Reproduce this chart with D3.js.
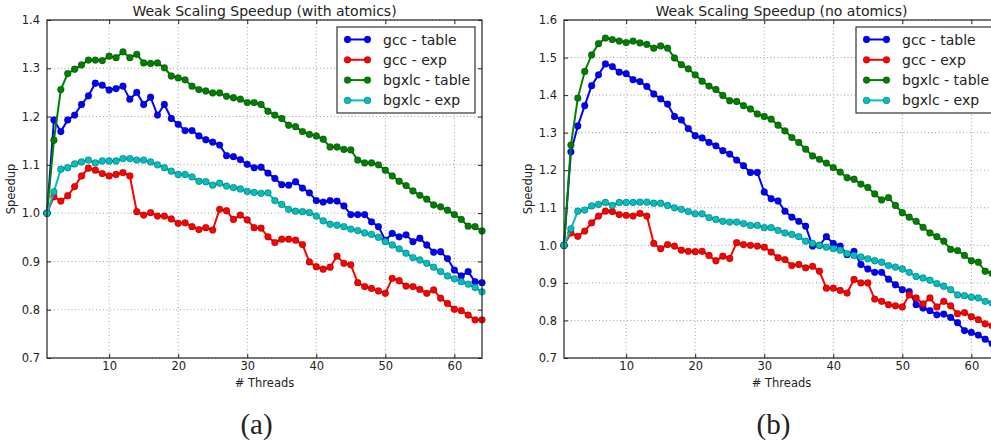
<!DOCTYPE html>
<html>
<head>
<meta charset="utf-8">
<script src="https://cdn.jsdelivr.net/npm/d3@7"></script>
<style>
  body { margin: 0; background: #fff; }
  svg { display: block; overflow: hidden; }
  text { font-family: "DejaVu Sans", sans-serif; fill: #222; }
</style>
</head>
<body>
<div id="chart"></div>
<script>
// threads 1..64
var threads = d3.range(1, 65);

// (a) with atomics
var atomGccTable = [1.0,1.193,1.169,1.193,1.203,1.225,1.243,1.269,1.265,1.255,1.258,1.263,1.236,1.250,1.225,1.240,1.203,1.225,1.196,1.184,
  1.171,1.171,1.160,1.152,1.147,1.141,1.119,1.117,1.111,1.101,1.094,1.095,1.083,1.072,1.059,1.058,1.065,1.052,1.042,1.026,
  1.023,1.026,1.025,1.015,0.997,0.997,0.997,0.982,0.972,0.944,0.958,0.951,0.955,0.941,0.948,0.934,0.919,0.920,0.906,0.882,
  0.870,0.879,0.858,0.856];
var atomGccExp = [1.0,1.034,1.025,1.036,1.055,1.077,1.093,1.089,1.082,1.077,1.080,1.084,1.077,1.003,0.996,1.001,0.994,0.994,0.988,0.979,
  0.980,0.972,0.966,0.970,0.965,1.008,1.005,0.987,0.996,0.986,0.970,0.969,0.951,0.939,0.946,0.946,0.944,0.935,0.899,0.889,
  0.884,0.888,0.911,0.896,0.893,0.856,0.848,0.844,0.839,0.834,0.865,0.860,0.849,0.848,0.842,0.834,0.841,0.824,0.813,0.801,
  0.798,0.789,0.779,0.779];
var atomXlcTable = [1.0,1.151,1.256,1.289,1.298,1.307,1.317,1.317,1.316,1.325,1.322,1.334,1.322,1.329,1.311,1.310,1.311,1.301,1.284,1.280,
  1.276,1.263,1.256,1.253,1.249,1.249,1.242,1.239,1.236,1.229,1.229,1.225,1.211,1.203,1.196,1.182,1.179,1.169,1.163,1.160,
  1.153,1.137,1.137,1.132,1.131,1.110,1.104,1.104,1.100,1.089,1.077,1.066,1.057,1.046,1.037,1.029,1.017,1.013,1.006,0.997,
  0.987,0.973,0.972,0.963];
var atomXlcExp = [1.0,1.044,1.091,1.094,1.102,1.106,1.110,1.104,1.108,1.108,1.108,1.113,1.113,1.110,1.110,1.106,1.100,1.094,1.087,1.080,
  1.080,1.075,1.066,1.065,1.058,1.062,1.056,1.053,1.050,1.045,1.043,1.041,1.042,1.026,1.018,1.008,1.004,1.003,1.001,0.994,
  0.984,0.977,0.975,0.972,0.967,0.964,0.959,0.956,0.950,0.941,0.934,0.926,0.917,0.908,0.903,0.896,0.888,0.879,0.870,0.864,
  0.858,0.853,0.846,0.837];

// (b) no atomics
var noatomGccTable = [1.0,1.249,1.318,1.372,1.425,1.454,1.483,1.476,1.461,1.457,1.441,1.436,1.423,1.403,1.390,1.376,1.343,1.334,1.311,1.292,
  1.286,1.274,1.265,1.252,1.243,1.227,1.212,1.194,1.194,1.142,1.124,1.118,1.091,1.075,1.064,1.051,0.998,1.000,1.023,1.005,
  0.998,0.975,0.984,0.949,0.937,0.928,0.928,0.910,0.895,0.882,0.877,0.842,0.833,0.826,0.815,0.817,0.808,0.794,0.773,0.768,
  0.761,0.750,0.738,0.730];
var noatomGccExp = [1.0,1.033,1.024,1.038,1.060,1.078,1.091,1.090,1.082,1.080,1.078,1.085,1.078,1.005,0.991,1.002,0.998,0.987,0.984,0.983,
  0.984,0.973,0.959,0.971,0.965,1.007,1.002,1.000,0.998,0.995,0.982,0.967,0.962,0.946,0.949,0.940,0.944,0.931,0.886,0.886,
  0.880,0.873,0.909,0.900,0.900,0.857,0.851,0.842,0.839,0.836,0.868,0.860,0.844,0.860,0.836,0.851,0.839,0.818,0.821,0.810,
  0.802,0.791,0.786,0.780];
var noatomXlcTable = [1.0,1.267,1.392,1.463,1.507,1.537,1.552,1.548,1.544,1.540,1.544,1.539,1.535,1.525,1.531,1.525,1.499,1.481,1.470,1.454,
  1.437,1.424,1.415,1.399,1.385,1.383,1.372,1.363,1.350,1.343,1.336,1.320,1.305,1.287,1.274,1.256,1.238,1.229,1.219,1.207,
  1.195,1.180,1.176,1.163,1.154,1.137,1.121,1.127,1.106,1.087,1.075,1.064,1.048,1.033,1.023,1.011,0.989,0.986,0.973,0.959,
  0.955,0.931,0.925,0.915];
var noatomXlcExp = [1.0,1.044,1.091,1.094,1.105,1.109,1.114,1.106,1.114,1.114,1.114,1.115,1.115,1.112,1.112,1.106,1.100,1.096,1.090,1.084,
  1.084,1.074,1.069,1.064,1.062,1.062,1.058,1.053,1.053,1.047,1.047,1.040,1.033,1.029,1.023,1.011,1.005,1.000,0.995,0.991,
  0.987,0.978,0.973,0.969,0.964,0.959,0.955,0.946,0.942,0.937,0.928,0.917,0.913,0.907,0.898,0.891,0.882,0.868,0.866,0.862,
  0.860,0.851,0.846,0.840];

var seriesNames = ["gcc - table", "gcc - exp", "bgxlc - table", "bgxlc - exp"];
var seriesColors = ["#0000ff", "#ff0000", "#008000", "#00bfbf"];
var xTicks = [10, 20, 30, 40, 50, 60];
var yTicksA = [0.7, 0.8, 0.9, 1.0, 1.1, 1.2, 1.3, 1.4];
var yTicksB = [0.7, 0.8, 0.9, 1.0, 1.1, 1.2, 1.3, 1.4, 1.5, 1.6];

var W = 991, H = 443;
var svg = d3.select("#chart").append("svg")
    .attr("width", W)
    .attr("height", H);

function drawPanel(opts) {
  var x = d3.scaleLinear().domain([1, 64]).range([opts.left, opts.left + 435]);
  var y = d3.scaleLinear().domain(opts.yDomain).range([358, 20]);
  var g = svg.append("g");

  // grid
  g.selectAll(".gx").data(xTicks).enter().append("line")
    .attr("x1", function(d){ return x(d); }).attr("x2", function(d){ return x(d); })
    .attr("y1", 20).attr("y2", 358)
    .attr("stroke", "#888").attr("stroke-width", 0.8).attr("stroke-dasharray", "1,2.5");
  g.selectAll(".gy").data(opts.yTicks).enter().append("line")
    .attr("x1", x(1)).attr("x2", x(64))
    .attr("y1", function(d){ return y(d); }).attr("y2", function(d){ return y(d); })
    .attr("stroke", "#888").attr("stroke-width", 0.8).attr("stroke-dasharray", "1,2.5");

  var xAxis = d3.axisBottom(x).tickValues(xTicks).tickSize(-4).tickPadding(4);
  var yAxis = d3.axisLeft(y).tickValues(opts.yTicks).tickSize(-4).tickPadding(7)
      .tickFormat(d3.format(".1f"));

  g.append("g").attr("transform", "translate(0,358)").call(customAxis, xAxis);
  g.append("g").attr("transform", "translate(" + opts.left + ",0)").call(customAxis, yAxis);
  g.append("g").attr("transform", "translate(0,20)")
    .call(customAxis, d3.axisTop(x).tickValues(xTicks).tickSize(-4).tickFormat(""));
  g.append("g").attr("transform", "translate(" + x(64) + ",0)")
    .call(customAxis, d3.axisRight(y).tickValues(opts.yTicks).tickSize(-4).tickFormat(""));

  function customAxis(sel, ax) {
    sel.call(ax);
    sel.select(".domain").remove();
    sel.selectAll(".tick line").attr("stroke", "#222");
    sel.selectAll(".tick text").style("font-size", "11.5px").style("font-family", "DejaVu Sans").attr("fill", "#222");
  }

  // lines + markers
  var line = d3.line().x(function(d, i){ return x(threads[i]); }).y(function(d){ return y(d); });
  opts.series.forEach(function(s, k) {
    var sg = g.append("g");
    sg.append("path").datum(s)
      .attr("fill", "none").attr("stroke", seriesColors[k]).attr("stroke-width", 2)
      .attr("d", line);
    sg.selectAll("circle").data(s).enter().append("circle")
      .attr("cx", function(d, i){ return x(threads[i]); })
      .attr("cy", function(d){ return y(d); })
      .attr("r", 3.4)
      .attr("fill", seriesColors[k]).attr("stroke", "#000").attr("stroke-opacity", 0.45).attr("stroke-width", 0.6);
  });

  // frame
  g.append("rect").attr("x", x(1)).attr("y", 20).attr("width", x(64) - x(1)).attr("height", 338)
    .attr("fill", "none").attr("stroke", "#222").attr("stroke-width", 1.2);

  // titles
  var cx = (x(1) + x(64)) / 2;
  g.append("text").attr("x", cx).attr("y", 16).attr("text-anchor", "middle")
    .style("font-size", "14px").text(opts.title);
  g.append("text").attr("x", cx).attr("y", 387).attr("text-anchor", "middle")
    .style("font-size", "11.5px").text("# Threads");
  g.append("text").attr("transform", "translate(" + (opts.left - 32) + "," + y(opts.yMid) + ") rotate(-90)")
    .attr("text-anchor", "middle").style("font-size", "11.5px").text("Speedup");
  g.append("text").attr("x", cx - 8).attr("y", 434).attr("text-anchor", "middle")
    .style("font-family", "'Liberation Serif', 'DejaVu Serif', serif").style("font-size", "29px")
    .text(opts.tag);

  // legend
  var lx = opts.legendX, ly = 27;
  var lg = g.append("g").attr("transform", "translate(" + lx + "," + ly + ")");
  lg.append("rect").attr("width", 138).attr("height", 86)
    .attr("fill", "#fff").attr("stroke", "#333").attr("stroke-width", 1.2);
  seriesNames.forEach(function(name, k) {
    var ry = 12.5 + k * 20.3;
    lg.append("line").attr("x1", 10.5).attr("x2", 30.5).attr("y1", ry).attr("y2", ry)
      .attr("stroke", seriesColors[k]).attr("stroke-width", 2);
    [10.5, 30.5].forEach(function(px) {
      lg.append("circle").attr("cx", px).attr("cy", ry).attr("r", 3.4)
        .attr("fill", seriesColors[k]).attr("stroke", "#000").attr("stroke-opacity", 0.45).attr("stroke-width", 0.6);
    });
    lg.append("text").attr("x", 46).attr("y", ry + 5).style("font-size", "14px").text(name);
  });
}

drawPanel({
  left: 47, yDomain: [0.7, 1.4], yTicks: yTicksA, yMid: 1.05,
  series: [atomGccTable, atomGccExp, atomXlcTable, atomXlcExp],
  title: "Weak Scaling Speedup (with atomics)", tag: "(a)", legendX: 337
});
drawPanel({
  left: 564, yDomain: [0.7, 1.6], yTicks: yTicksB, yMid: 1.15,
  series: [noatomGccTable, noatomGccExp, noatomXlcTable, noatomXlcExp],
  title: "Weak Scaling Speedup (no atomics)", tag: "(b)", legendX: 856
});
</script>
</body>
</html>
